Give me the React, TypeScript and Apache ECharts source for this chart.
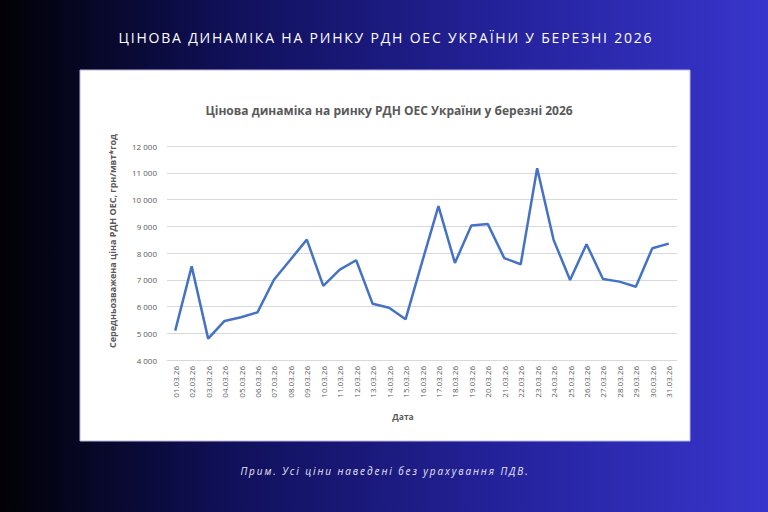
import React, { useEffect, useRef } from "react";
import * as echarts from "echarts";

const pageTitle = "ЦІНОВА ДИНАМІКА НА РИНКУ РДН ОЕС УКРАЇНИ У БЕРЕЗНІ 2026";
const chartTitle = "Цінова динаміка на ринку РДН ОЕС України у березні 2026";
const footNote = "Прим. Усі ціни наведені без урахування ПДВ.";
const yAxisTitle = "Середньозважена ціна РДН ОЕС, грн/мвт*год";
const xAxisTitle = "Дата";

const dates = [
  "01.03.26", "02.03.26", "03.03.26", "04.03.26", "05.03.26", "06.03.26", "07.03.26",
  "08.03.26", "09.03.26", "10.03.26", "11.03.26", "12.03.26", "13.03.26", "14.03.26",
  "15.03.26", "16.03.26", "17.03.26", "18.03.26", "19.03.26", "20.03.26", "21.03.26",
  "22.03.26", "23.03.26", "24.03.26", "25.03.26", "26.03.26", "27.03.26", "28.03.26",
  "29.03.26", "30.03.26", "31.03.26",
];

const prices = [
  5100, 7500, 4800, 5460, 5600, 5780, 7000,
  7750, 8500, 6770, 7380, 7730, 6100, 5950,
  5520, 7650, 9750, 7630, 9025, 9080, 7810,
  7580, 11170, 8490, 6990, 8330, 7030, 6930,
  6740, 8180, 8350,
];

const yMin = 4000;
const yMax = 12000;
const yStep = 1000;

function fmt(v: number): string {
  return String(v).replace(/\B(?=(\d{3})+(?!\d))/g, "\u00a0");
}

export default function App() {
  const ref = useRef<HTMLDivElement>(null);
  useEffect(() => {
    if (!ref.current) return;
    const chart = echarts.init(ref.current, null, { renderer: "svg" });
    const font = "'Open Sans', 'Noto Sans', sans-serif";
    chart.setOption({
      animation: false,
      backgroundColor: {
        type: "linear",
        x: 0,
        y: 0,
        x2: 1,
        y2: 0,
        colorStops: [
          { offset: 0, color: "#010104" },
          { offset: 0.3, color: "#10105a" },
          { offset: 0.65, color: "#24229a" },
          { offset: 1, color: "#3835cc" },
        ],
      },
      textStyle: { fontFamily: font },
      graphic: [
        {
          type: "rect",
          z: -100,
          silent: true,
          shape: { x: 80, y: 70, width: 610, height: 371 },
          style: { fill: "#ffffff", stroke: "#b9b6e6", lineWidth: 1 },
        },
        {
          type: "text",
          silent: true,
          x: 386,
          y: 37,
          style: {
            text: pageTitle,
            fill: "#ffffff",
            font: `14px ${font}`,
            align: "center",
            verticalAlign: "middle",
          },
        },
        {
          type: "text",
          silent: true,
          x: 389,
          y: 110,
          style: {
            text: chartTitle,
            fill: "#595959",
            font: `bold 12px ${font}`,
            align: "center",
            verticalAlign: "middle",
          },
        },
        {
          type: "text",
          silent: true,
          x: 112,
          y: 241,
          rotation: Math.PI / 2,
          style: {
            text: yAxisTitle,
            fill: "#595959",
            font: `bold 9px ${font}`,
            align: "center",
            verticalAlign: "middle",
          },
        },
        {
          type: "text",
          silent: true,
          x: 403,
          y: 416,
          style: {
            text: xAxisTitle,
            fill: "#595959",
            font: `bold 8.5px ${font}`,
            align: "center",
            verticalAlign: "middle",
          },
        },
        {
          type: "text",
          silent: true,
          x: 385,
          y: 471,
          style: {
            text: footNote,
            fill: "#e6e6f2",
            font: `italic 10px ${font}`,
            align: "center",
            verticalAlign: "middle",
          },
        },
      ],
      grid: { left: 167, right: 91, top: 146, bottom: 152, containLabel: false },
      xAxis: {
        type: "category",
        data: dates,
        boundaryGap: true,
        axisLine: { show: true, lineStyle: { color: "#d9d9d9", width: 1 } },
        axisTick: { show: false },
        axisLabel: {
          interval: 0,
          rotate: 90,
          color: "#595959",
          fontSize: 8,
          margin: 6,
          fontFamily: font,
        },
      },
      yAxis: {
        type: "value",
        min: yMin,
        max: yMax,
        interval: yStep,
        axisLine: { show: false },
        axisTick: { show: false },
        splitLine: { lineStyle: { color: "#d9d9d9", width: 1 } },
        axisLabel: {
          color: "#595959",
          fontSize: 8,
          margin: 10,
          fontFamily: font,
          formatter: (v: number) => fmt(v),
        },
      },
      series: [
        {
          type: "line",
          data: prices,
          symbol: "none",
          silent: true,
          lineStyle: { color: "#4472c4", width: 2.5 },
          itemStyle: { color: "#4472c4" },
        },
      ],
    });
    // spaced lettering for the page heading and note, as in the reference
    ref.current.querySelectorAll("text").forEach((t) => {
      const s = (t.textContent || "").trim();
      if (s === pageTitle) t.setAttribute("letter-spacing", "1.8");
      if (s === footNote) t.setAttribute("letter-spacing", "1.9");
    });
    return () => chart.dispose();
  }, []);
  return (
    <div
      ref={ref}
      style={{ position: "fixed", left: 0, top: 0, width: 768, height: 512 }}
    />
  );
}
